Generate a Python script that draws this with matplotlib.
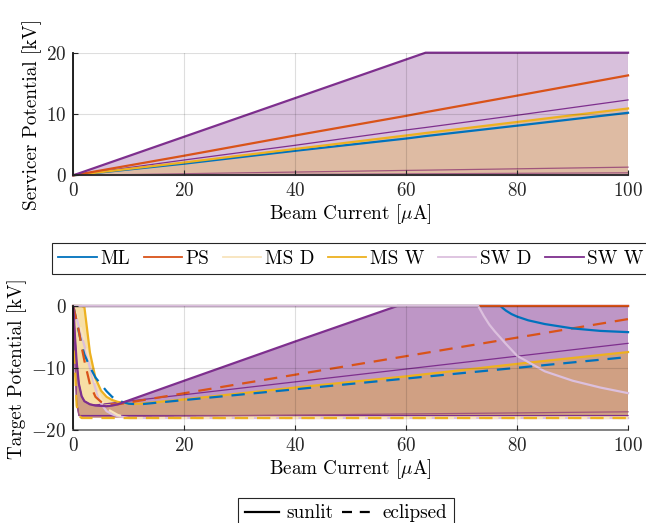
import numpy as np
import matplotlib
matplotlib.use("Agg")
import matplotlib.pyplot as plt
from matplotlib.lines import Line2D

plt.rcParams['font.family'] = 'cmr10'
plt.rcParams['mathtext.fontset'] = 'cm'
plt.rcParams['axes.formatter.use_mathtext'] = True
plt.rcParams['font.size'] = 13.8

# colours per material
C_ML = '#0072BD'
C_PS = '#D95319'
C_MSD = '#F8E4BC'
C_MSW = '#EDB120'
C_SWD = '#DCC0DE'
C_SWW = '#7E2F8E'
C_MAUVE = '#A0557C'

# ---- servicer potential (kV) vs beam current (uA)
top_x = [0, 20, 40, 60, 63.5, 80, 100]
ml_top = [0, 1.9, 4.0, 6.0, 6.4, 8.1, 10.2]
ps_top = [0, 3.2, 6.5, 9.7, 10.3, 13.0, 16.3]
msw_top = [0, 2.1, 4.3, 6.5, 6.9, 8.7, 10.9]
sww_top = [0, 6.3, 12.6, 18.9, 20, 20, 20]
sw_thin_top = [0, 2.5, 4.9, 7.4, 7.8, 9.8, 12.3]
mauve_a_top = [0, 0.26, 0.53, 0.8, 0.84, 1.06, 1.33]
mauve_b_top = [0, 0.08, 0.16, 0.24, 0.25, 0.32, 0.4]
zero_top = [0, 0, 0, 0, 0, 0, 0]

# ---- target potential (kV) vs beam current (uA), sunlit
ml_sun_x = [0, 77, 77.5, 78, 79, 80, 82, 85, 90, 95, 100]
ml_sun = [0, 0, -0.4, -0.75, -1.3, -1.7, -2.3, -2.9, -3.6, -4.0, -4.2]
ps_sun_x = [0, 100]
ps_sun = [0, 0]
msw_sun_x = [0, 1.5, 2, 3, 4, 5, 6, 7, 8, 10, 12, 20, 40, 60, 80, 100]
msw_sun = [0, 0, -0.2, -7.5, -11.6, -13.6, -14.6, -15.1, -15.4, -15.7, -15.7,
           -15.0, -13.1, -11.3, -9.3, -7.4]
swd_sun_x = [0, 73, 74, 75, 76, 78, 80, 85, 90, 95, 100]
swd_sun = [0, 0, -1.6, -3.0, -4.1, -6.1, -8.0, -10.5, -12.0, -13.1, -14.0]
sww_sun_x = [0, 0.3, 0.6, 1, 1.5, 2, 3, 4, 6, 7, 8, 20, 40, 58.4, 100]
sww_sun = [0, -5, -9, -12.5, -14.5, -15.3, -15.8, -16.0, -16.1, -16.0, -15.8,
           -12.0, -5.7, 0, 0]

# eclipsed
ml_ecl_x = [0, 0.3, 0.6, 1, 1.5, 2, 3, 4, 5, 6, 7, 8, 10, 12, 100]
ml_ecl = [0, -1.2, -2.5, -4.2, -6.2, -7.8, -9.8, -11.5, -12.6, -13.7, -14.6,
          -15.2, -15.7, -15.8, -8.2]
ps_ecl_x = [0, 0.3, 0.6, 1, 1.5, 2, 3, 4, 5, 6, 7, 8, 100]
ps_ecl = [0, -1.2, -2.4, -4.0, -6.6, -8.8, -12.6, -14.6, -15.4, -15.7, -15.8,
          -15.8, -2.1]
msd_ecl_x = [0, 1, 2, 3, 4, 5, 6, 8, 10, 100]
msd_ecl = [0, -2.5, -5.5, -9.0, -12.5, -15.0, -16.5, -17.5, -18.0, -18.0]
msw_ecl_x = [0, 0.3, 0.6, 1, 1.5, 100]
msw_ecl = [0, -10, -16, -17.6, -18.0, -18.0]
swd_ecl_x = [0, 1, 2, 3, 4, 5, 6, 7, 8, 10, 100]
swd_ecl = [0, -3.3, -6.4, -10.0, -13.3, -15.7, -16.9, -17.4, -17.7, -18.0, -18.0]
sww_ecl_x = [0, 0.3, 0.6, 1, 100]
sww_ecl = [0, -9, -15.5, -17.6, -17.6]

# lighter sweep cases
sw_thin_x = [0, 0.3, 0.6, 1, 1.5, 2, 3, 4, 100]
sw_thin = [0, -5, -9, -12.5, -14.5, -15.3, -15.8, -15.9, -6.0]
mauve_x = [0, 0.3, 0.6, 1, 1.5, 8, 100]
mauve = [0, -9, -15.5, -17.5, -17.8, -17.8, -17.0]


def band(ax, xu, yu, xl, yl, color, alpha):
    xs = np.r_[xu, np.asarray(xl)[::-1]]
    ys = np.r_[yu, np.asarray(yl)[::-1]]
    ax.fill(xs, ys, color=color, alpha=alpha, lw=0, zorder=1)


def style(ax, ylim, yticks, ylabel, xspine='#262626'):
    ax.set_xlim(0, 100)
    ax.set_ylim(*ylim)
    ax.set_xticks([0, 20, 40, 60, 80, 100])
    ax.set_yticks(yticks)
    for s in ['top', 'right']:
        ax.spines[s].set_visible(False)
    ax.spines['left'].set_color('#111111')
    ax.spines['left'].set_linewidth(1.3)
    ax.spines['bottom'].set_color(xspine)
    ax.spines['bottom'].set_linewidth(1.3)
    ax.tick_params(direction='in', length=3.5, width=0.8, colors='#262626',
                   labelcolor='#262626', pad=5)
    ax.grid(True, color='#000000', alpha=0.13, lw=0.8)
    ax.set_axisbelow(False)
    ax.set_xlabel(r'Beam Current [$\mu$A]', labelpad=1.5)
    ax.set_ylabel(ylabel, labelpad=3)


LW = 1.6
fig = plt.figure(figsize=(6.46, 5.23), dpi=100)
ax1 = fig.add_axes([0.1135, 0.6648, 0.8587, 0.2344])
ax2 = fig.add_axes([0.1135, 0.1769, 0.8587, 0.2380])

# servicer
band(ax1, top_x, sww_top, top_x, zero_top, C_SWW, 0.3)
band(ax1, top_x, msw_top, top_x, zero_top, C_MSW, 0.3)
ax1.plot(top_x, mauve_b_top, color=C_MAUVE, lw=0.9, clip_on=False)
ax1.plot(top_x, mauve_a_top, color=C_MAUVE, lw=0.9, clip_on=False)
ax1.plot(top_x, sw_thin_top, color=C_SWW, lw=0.9, clip_on=False)
ax1.plot(top_x, zero_top, color=C_SWD, lw=LW, clip_on=False)
ax1.plot(top_x, ml_top, color=C_ML, lw=LW, clip_on=False)
ax1.plot(top_x, msw_top, color=C_MSW, lw=LW, clip_on=False)
ax1.plot(top_x, ps_top, color=C_PS, lw=LW, clip_on=False)
ax1.plot(top_x, sww_top, color=C_SWW, lw=LW, clip_on=False)
style(ax1, (0, 20), [0, 10, 20], 'Servicer Potential [kV]')

# target
band(ax2, sww_sun_x, sww_sun, sww_ecl_x, sww_ecl, C_SWW, 0.5)
band(ax2, msw_sun_x, msw_sun, msw_ecl_x, msw_ecl, C_MSW, 0.4)
ax2.plot(sww_ecl_x, sww_ecl, color=C_SWW, lw=0.9, clip_on=False)
ax2.plot(mauve_x, mauve, color=C_MAUVE, lw=0.9, clip_on=False)
ax2.plot(sw_thin_x, sw_thin, color=C_SWW, lw=0.9, clip_on=False)
dash = dict(lw=LW, ls=(0, (6, 4)), clip_on=False)
ax2.plot(swd_ecl_x, swd_ecl, color=C_SWD, lw=LW, clip_on=False)
ax2.plot(msd_ecl_x, msd_ecl, color=C_MSD, **dash)
ax2.plot(msw_ecl_x, msw_ecl, color=C_MSW, **dash)
ax2.plot(msw_sun_x, msw_sun, color=C_MSW, lw=LW, clip_on=False)
ax2.plot(ml_ecl_x, ml_ecl, color=C_ML, **dash)
ax2.plot(ps_ecl_x, ps_ecl, color=C_PS, **dash)
ax2.plot(sww_sun_x, sww_sun, color=C_SWW, lw=LW, clip_on=False)
ax2.plot(ml_sun_x, ml_sun, color=C_ML, lw=LW, clip_on=False)
ax2.plot(ps_sun_x, ps_sun, color=C_PS, lw=LW, clip_on=False)
ax2.plot(swd_sun_x, swd_sun, color=C_SWD, lw=LW, clip_on=False)
style(ax2, (-20, 0), [-20, -10, 0], 'Target Potential [kV]', xspine='#7a7a7a')

names = ['ML', 'PS', 'MS D', 'MS W', 'SW D', 'SW W']
colors = [C_ML, C_PS, C_MSD, C_MSW, C_SWD, C_SWW]
h1 = [Line2D([], [], color=c, lw=1.3) for c in colors]
leg_kw = dict(frameon=True, fancybox=False, framealpha=1, edgecolor='#262626',
              borderaxespad=0, handlelength=2.0, handletextpad=0.2,
              columnspacing=0.7, borderpad=0.35)
lg1 = fig.legend(h1, names, loc='upper left', ncol=6,
                 bbox_to_anchor=(51.7 / 646, 1 - 243 / 523), **leg_kw)
lg1.get_frame().set_linewidth(0.8)

h2 = [Line2D([], [], color='k', lw=1.6),
      Line2D([], [], color='k', lw=1.6, ls=(0, (4.5, 3.5)))]
leg_kw.update(handlelength=1.8, handletextpad=0.35, columnspacing=0.45)
lg2 = fig.legend(h2, ['sunlit', 'eclipsed'], loc='upper left', ncol=2,
                 bbox_to_anchor=(238 / 646, 1 - 497.7 / 523), **leg_kw)
lg2.get_frame().set_linewidth(0.8)

fig.savefig('out.png', dpi=100)
